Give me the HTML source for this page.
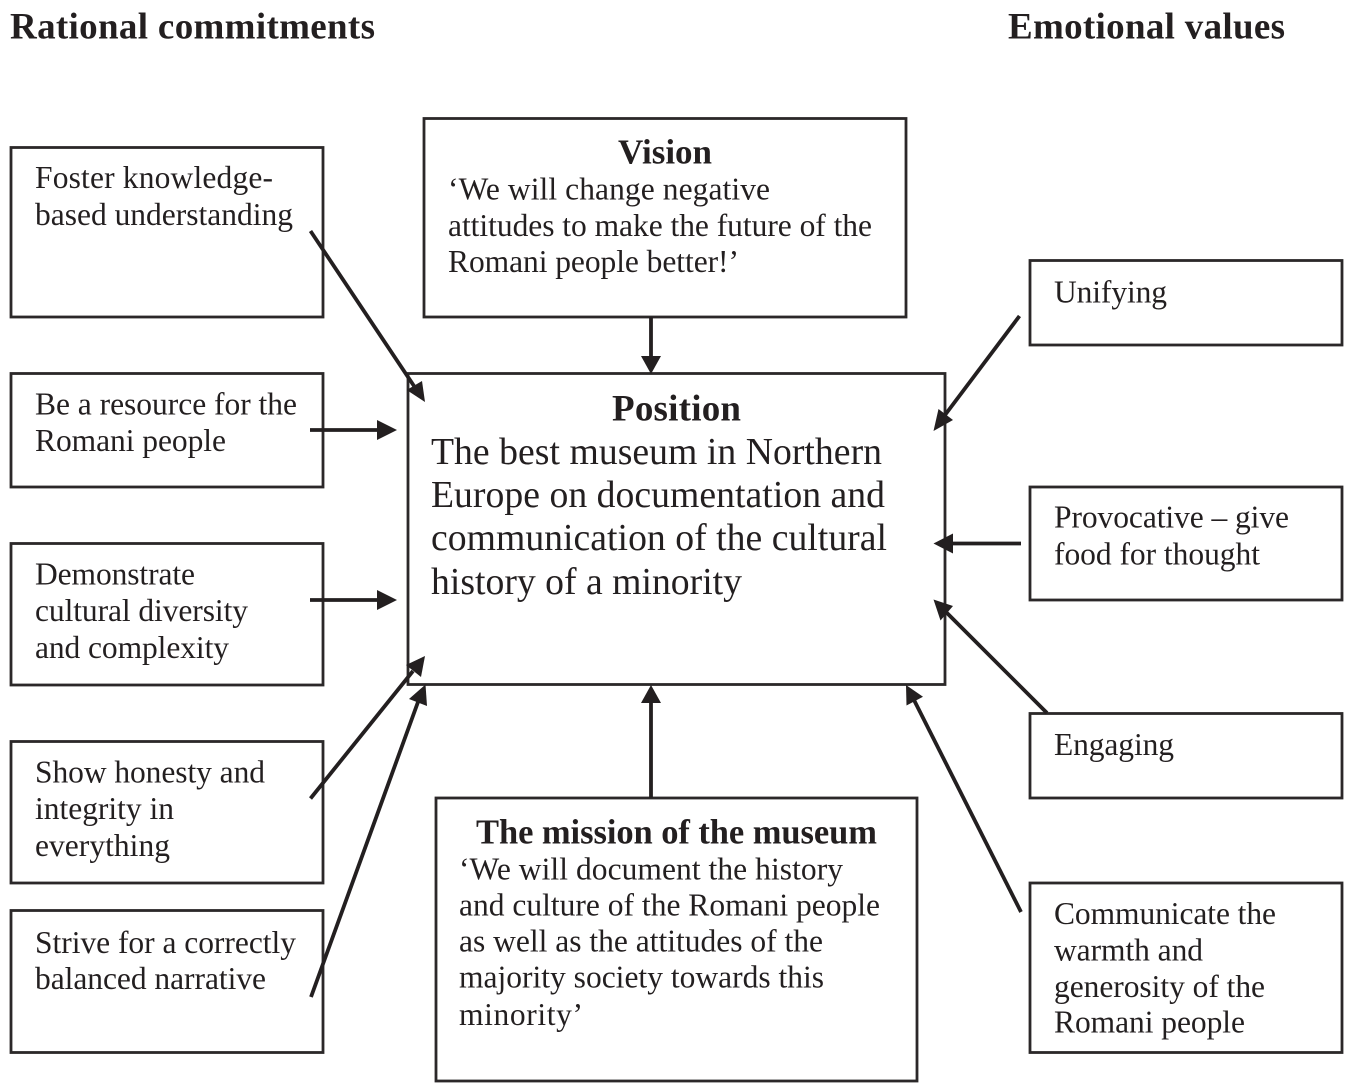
<!DOCTYPE html>
<html><head><meta charset="utf-8">
<style>
html,body{margin:0;padding:0;background:#fff;}
svg{display:block;}
text{font-family:"Liberation Serif",serif;fill:#231f20;}
.t{font-size:31.5px;}
.b{font-size:37px;font-weight:bold;}
.p{font-size:37.7px;}
rect{fill:none;stroke:#2b2829;stroke-width:2.8;}
line{stroke:#231f20;stroke-width:3.8;}
polygon{fill:#231f20;}
</style></head><body>
<svg width="1350" height="1087" viewBox="0 0 1350 1087" xmlns="http://www.w3.org/2000/svg">
<text class="b" x="10" y="38.7" textLength="365">Rational commitments</text>
<text class="b" x="1008" y="38.7" textLength="277">Emotional values</text>

<rect x="11" y="147.5" width="312" height="169.5"/>
<rect x="11" y="373.5" width="312" height="113.5"/>
<rect x="11" y="543.5" width="312" height="141.5"/>
<rect x="11" y="741.5" width="312" height="141.5"/>
<rect x="11" y="910.5" width="312" height="142"/>
<rect x="424" y="118.5" width="482" height="198.5"/>
<rect x="408" y="373.5" width="537" height="311"/>
<rect x="436" y="798" width="481" height="283"/>
<rect x="1030" y="260.5" width="312" height="84.5"/>
<rect x="1030" y="487" width="312" height="113"/>
<rect x="1030" y="713.5" width="312" height="84.5"/>
<rect x="1030" y="883" width="312" height="169.5"/>

<text class="t" x="35" y="188" textLength="238">Foster knowledge-</text>
<text class="t" x="35" y="225" textLength="258">based understanding</text>
<text class="t" x="35" y="414.6" textLength="262">Be a resource for the</text>
<text class="t" x="35" y="451" textLength="191">Romani people</text>
<text class="t" x="35" y="584.5" textLength="160">Demonstrate</text>
<text class="t" x="35" y="621" textLength="213">cultural diversity</text>
<text class="t" x="35" y="658" textLength="194">and complexity</text>
<text class="t" x="35" y="782.7" textLength="230">Show honesty and</text>
<text class="t" x="35" y="819" textLength="139">integrity in</text>
<text class="t" x="35" y="856" textLength="135">everything</text>
<text class="t" x="35" y="953" textLength="261">Strive for a correctly</text>
<text class="t" x="35" y="989" textLength="231">balanced narrative</text>

<text x="618" y="163.5" textLength="94" style="font-size:35px;font-weight:bold">Vision</text>
<text class="t" x="448" y="199.7" textLength="322">‘We will change negative</text>
<text class="t" x="448" y="236" textLength="424">attitudes to make the future of the</text>
<text class="t" x="448" y="272" textLength="291">Romani people better!’</text>

<text x="612" y="420.7" textLength="129" style="font-size:37px;font-weight:bold">Position</text>
<text class="p" x="431" y="464" textLength="451">The best museum in Northern</text>
<text class="p" x="431" y="507" textLength="454">Europe on documentation and</text>
<text class="p" x="431" y="550" textLength="456">communication of the cultural</text>
<text class="p" x="431" y="594" textLength="311">history of a minority</text>

<text x="476" y="843.6" textLength="401" style="font-size:34.5px;font-weight:bold">The mission of the museum</text>
<text class="t" x="459" y="879.6" textLength="384">‘We will document the history</text>
<text class="t" x="459" y="915.6" textLength="421">and culture of the Romani people</text>
<text class="t" x="459" y="951.6" textLength="364">as well as the attitudes of the</text>
<text class="t" x="459" y="987.6" textLength="365">majority society towards this</text>
<text class="t" x="459" y="1025" textLength="124">minority’</text>

<text class="t" x="1054" y="302.6" textLength="113">Unifying</text>
<text class="t" x="1054" y="527.6" textLength="235">Provocative – give</text>
<text class="t" x="1054" y="564.6" textLength="206">food for thought</text>
<text class="t" x="1054" y="755" textLength="120">Engaging</text>
<text class="t" x="1054" y="924" textLength="222">Communicate the</text>
<text class="t" x="1054" y="960.5" textLength="149">warmth and</text>
<text class="t" x="1054" y="997" textLength="211">generosity of the</text>
<text class="t" x="1054" y="1032.6" textLength="191">Romani people</text>

<line x1="310.5" y1="231" x2="414" y2="386"/>
<polygon points="425,402 406.7,390 422,381"/>
<line x1="310" y1="430" x2="380" y2="430"/>
<polygon points="397,430 377,420 377,440"/>
<line x1="310" y1="600" x2="380" y2="600"/>
<polygon points="397,600 377,590 377,610"/>
<line x1="310.5" y1="798.5" x2="413" y2="671"/>
<polygon points="425,656 406,665 421,677"/>
<line x1="311" y1="997" x2="418" y2="702"/>
<polygon points="425.5,684.5 409,699 427,706"/>
<line x1="651" y1="317" x2="651" y2="358"/>
<polygon points="651,374 641,356 661,356"/>
<line x1="651" y1="798" x2="651" y2="700"/>
<polygon points="651,685 641,703 661,703"/>
<line x1="1019.5" y1="316" x2="945" y2="415"/>
<polygon points="933.5,431 938.5,409 953,420"/>
<line x1="1021" y1="543.5" x2="950" y2="543.5"/>
<polygon points="933.5,543.5 953,533.5 953,553.5"/>
<line x1="1047" y1="713" x2="946" y2="612"/>
<polygon points="933.5,599.5 953,606 940.5,620.5"/>
<line x1="1021" y1="912" x2="914" y2="700"/>
<polygon points="906,685 923,696.7 906.5,705.5"/>
</svg>
</body></html>
